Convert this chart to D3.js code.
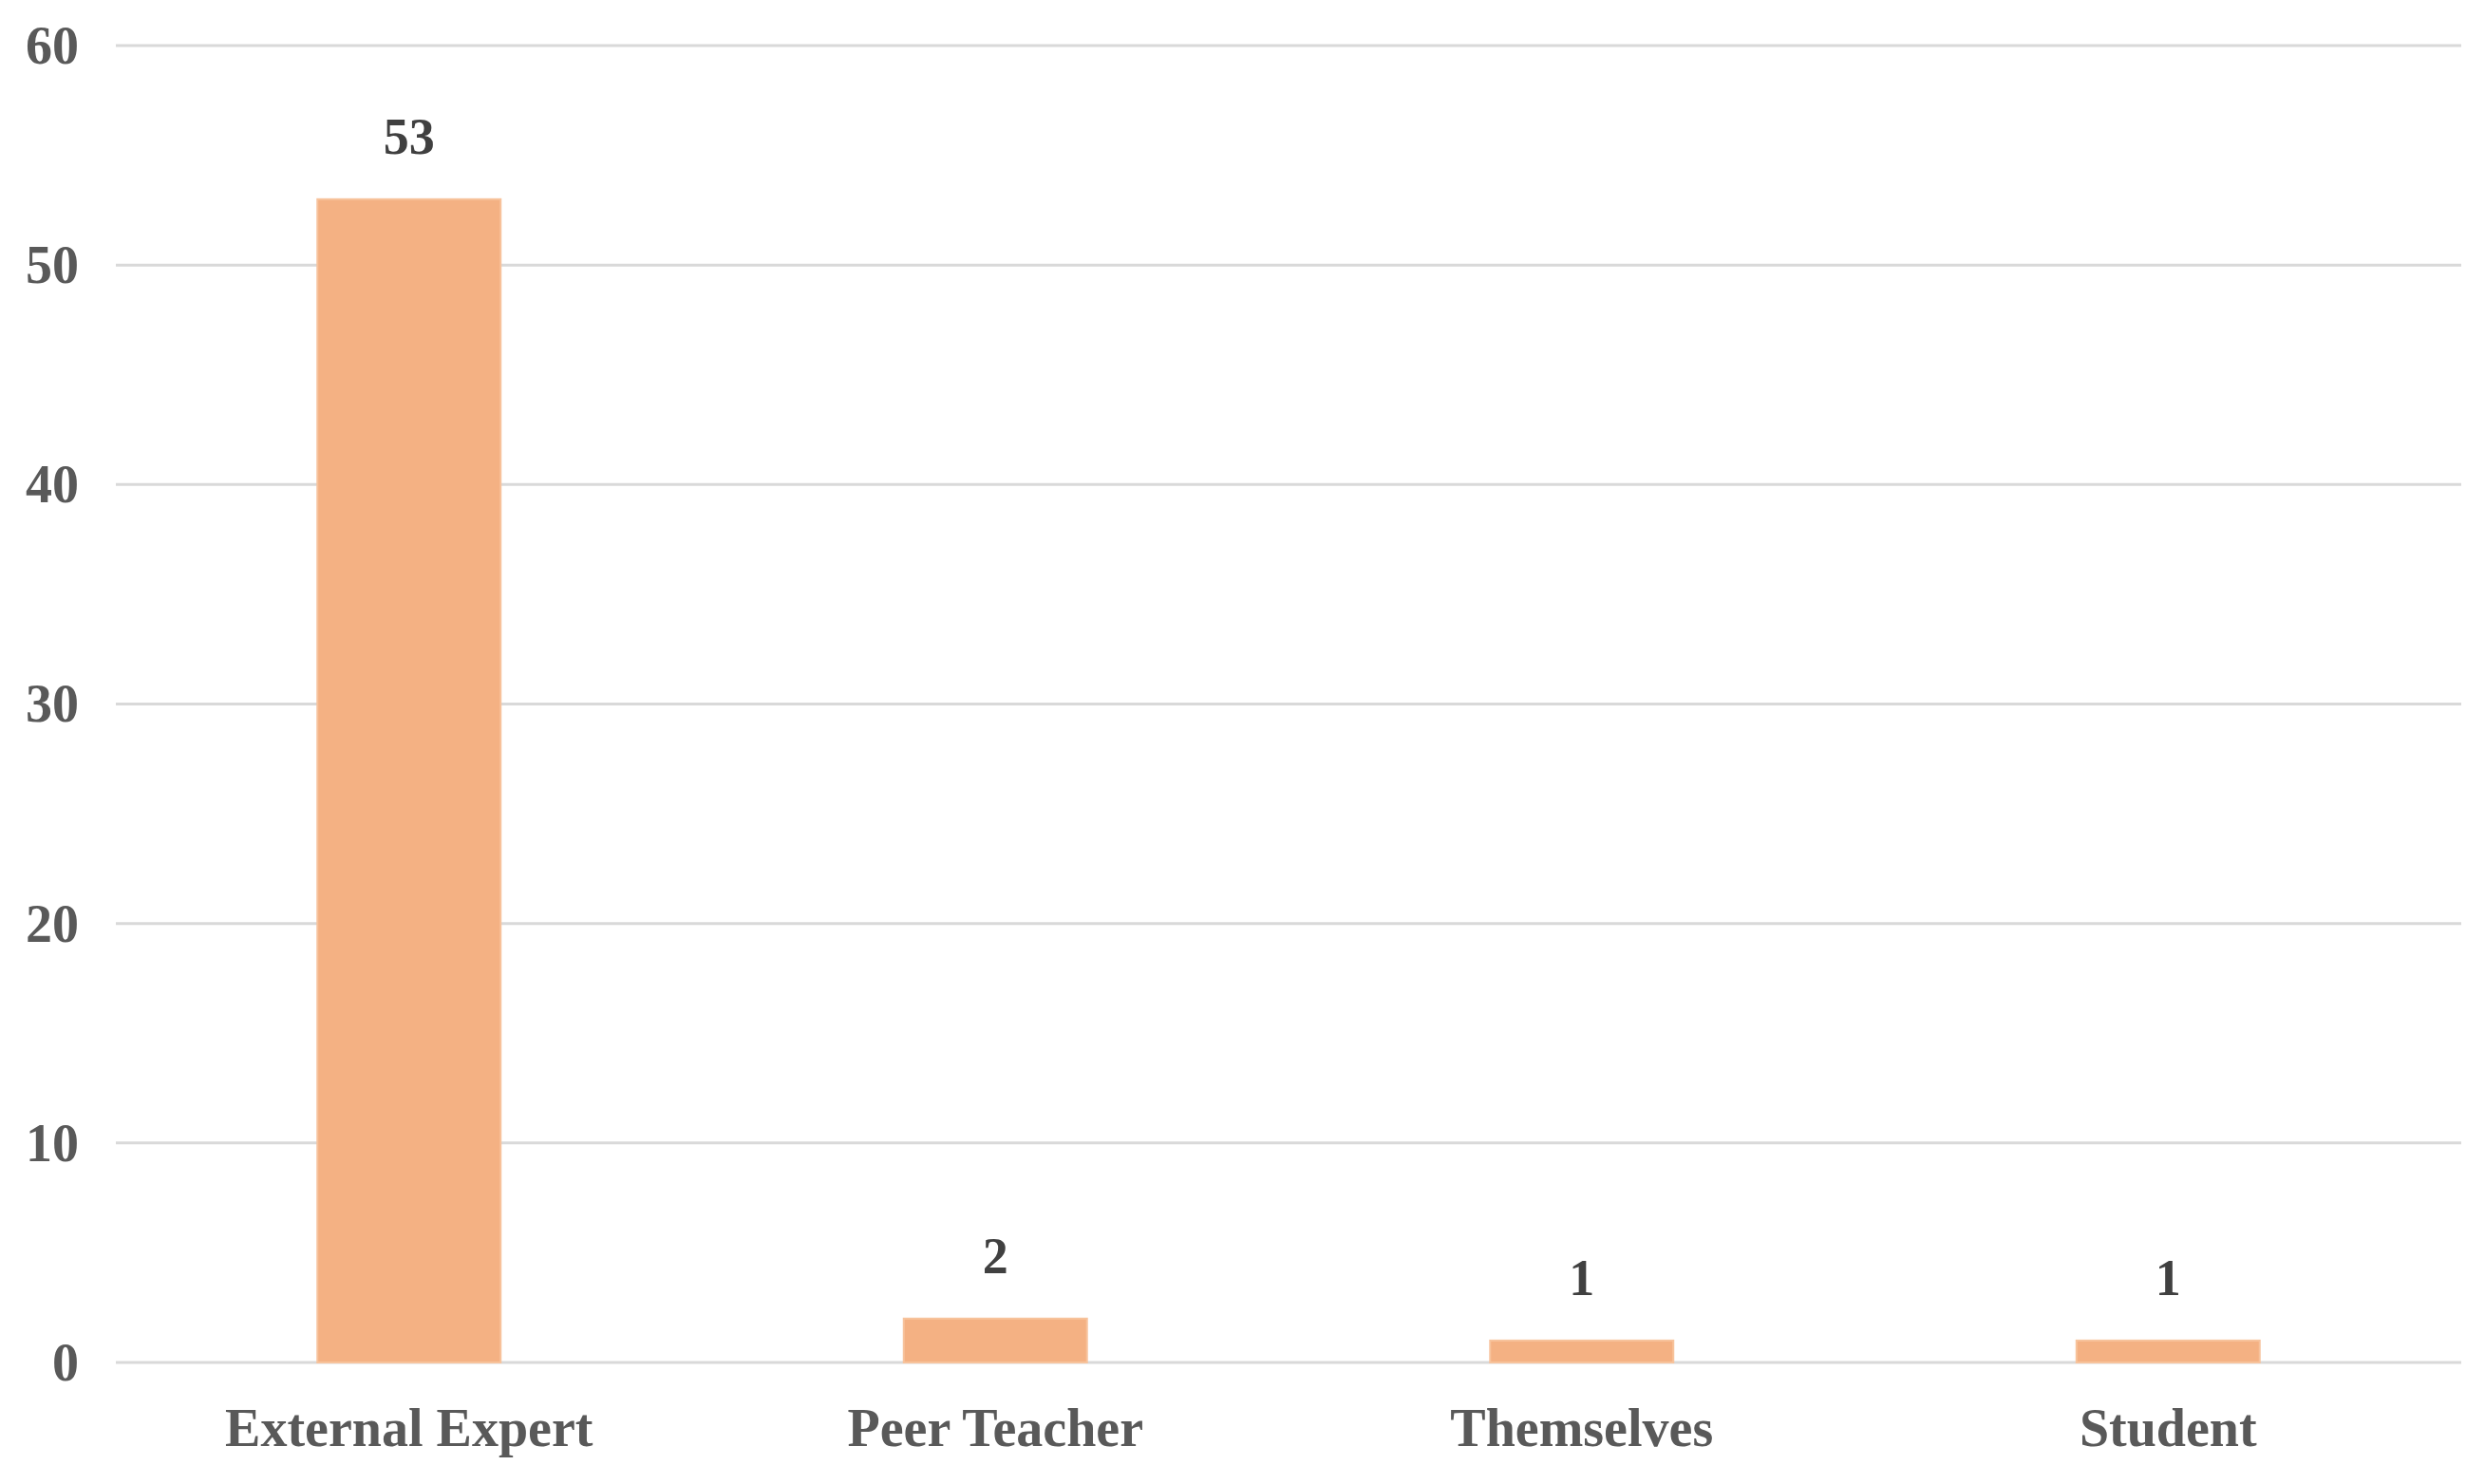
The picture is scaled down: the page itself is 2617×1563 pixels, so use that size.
<!DOCTYPE html>
<html>
<head>
<meta charset="utf-8">
<script src="https://cdn.jsdelivr.net/npm/d3@7"></script>
<style>
  html, body { margin: 0; padding: 0; background: #ffffff; }
  svg { display: block; }
</style>
</head>
<body>
<svg id="chart" width="2617" height="1563"></svg>
<script>
const categories = ["External Expert", "Peer Teacher", "Themselves", "Student"];
const values = [53, 2, 1, 1];
const yTicks = [0, 10, 20, 30, 40, 50, 60];

const W = 2617, H = 1563;
const margin = { left: 122, right: 25, top: 48, bottom: 128 };
const svg = d3.select("#chart");

const x = d3.scaleBand()
  .domain(categories)
  .range([margin.left, W - margin.right])
  .paddingInner(0.6875)
  .paddingOuter(0.34375);

const y = d3.scaleLinear()
  .domain([0, 60])
  .range([H - margin.bottom, margin.top]);

const font = "'Liberation Serif', 'Times New Roman', serif";

// gridlines
svg.append("g")
  .selectAll("line")
  .data(yTicks)
  .join("line")
  .attr("x1", margin.left)
  .attr("x2", W - margin.right)
  .attr("y1", d => y(d))
  .attr("y2", d => y(d))
  .attr("stroke", "#d9d9d9")
  .attr("stroke-width", 3);

// y axis labels
const yAxis = d3.axisLeft(y).tickValues(yTicks).tickSize(0).tickPadding(0);
const yg = svg.append("g")
  .attr("transform", `translate(${margin.left - 39},0)`)
  .call(yAxis);
yg.select(".domain").remove();
yg.selectAll("text")
  .attr("font-family", font)
  .attr("font-weight", "bold")
  .attr("font-size", 56)
  .attr("fill", "#595959")
  .attr("dy", "0.33em");

// bars
svg.append("g")
  .selectAll("rect")
  .data(values)
  .join("rect")
  .attr("x", (d, i) => x(categories[i]))
  .attr("width", x.bandwidth())
  .attr("y", d => y(d))
  .attr("height", d => y(0) - y(d))
  .attr("fill", "#F4B183")
  .attr("stroke", "#F7C39C")
  .attr("stroke-width", 2);

// value labels
svg.append("g")
  .selectAll("text")
  .data(values)
  .join("text")
  .attr("x", (d, i) => x(categories[i]) + x.bandwidth() / 2)
  .attr("y", d => y(d) - 48)
  .attr("text-anchor", "middle")
  .attr("font-family", font)
  .attr("font-weight", "bold")
  .attr("font-size", 54)
  .attr("fill", "#404040")
  .text(d => d);

// x axis labels
const xAxis = d3.axisBottom(x).tickSize(0).tickPadding(0);
const xg = svg.append("g")
  .attr("transform", `translate(0,${y(0)})`)
  .call(xAxis);
xg.select(".domain").remove();
xg.selectAll("text")
  .attr("font-family", font)
  .attr("font-weight", "bold")
  .attr("font-size", 56)
  .attr("fill", "#595959")
  .attr("dy", null)
  .attr("y", 88);
</script>
</body>
</html>
